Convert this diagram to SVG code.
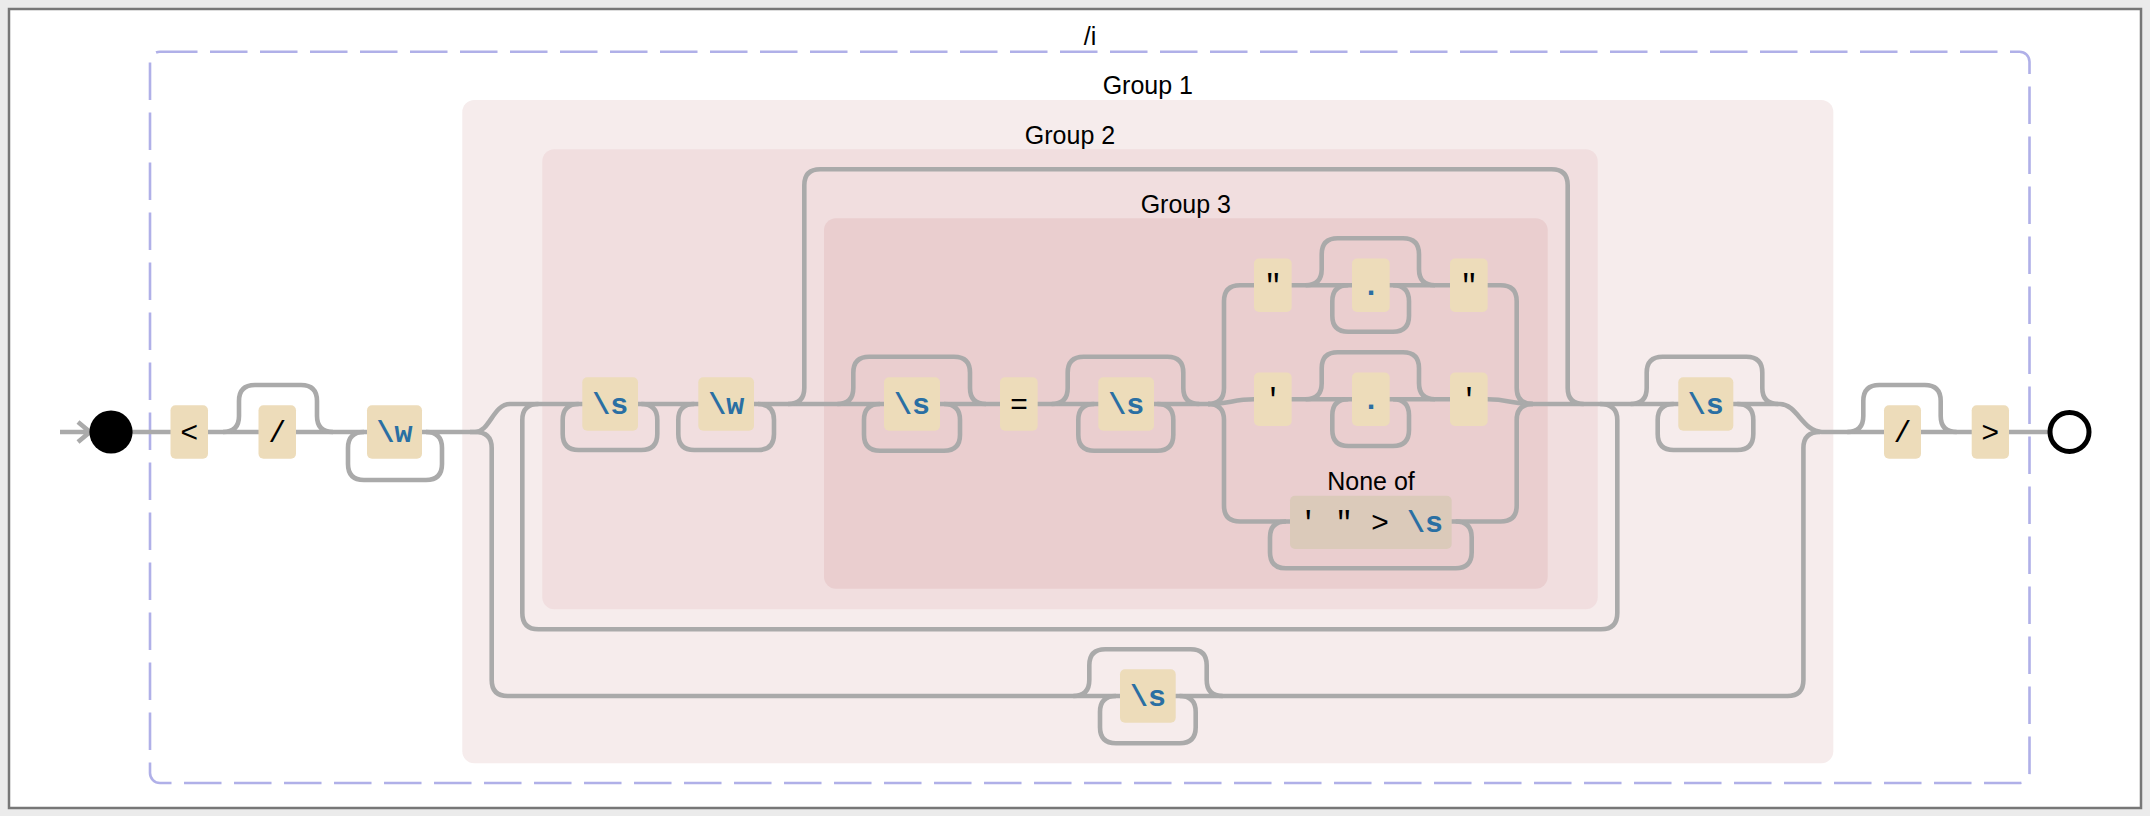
<svg xmlns="http://www.w3.org/2000/svg" width="2150" height="816" viewBox="0 0 2150 816">
<style>
.bg{fill:#ebebeb}
.frame{fill:#ffffff;stroke:#777777;stroke-width:2.5}
.dash{fill:none;stroke:#b0b0e8;stroke-width:2.6;stroke-dasharray:37.5 12.5}
.g1{fill:#f6ecec}
.g2{fill:#f1dedf}
.g3{fill:#eacecf}
.lbl{font-family:"Liberation Sans",Arial,sans-serif;font-size:25px;fill:#000;text-anchor:middle}
.conn path{fill:none;stroke:#aaaaaa;stroke-width:4.6;stroke-linejoin:round}
.lit{fill:#eddcba}
.cset{fill:#dbcaba}
.t{font-family:"Liberation Mono","Courier New",monospace;font-size:30px;text-anchor:middle;fill:#000}
.esc{fill:#2a6fa3;font-weight:bold}
</style>
<rect class="bg" x="0" y="0" width="2150" height="816"/>
<rect class="frame" x="9" y="9" width="2132" height="799"/>
<g id="regex-frame">
<rect class="dash" x="150" y="51.7" width="1879.5" height="731.3" rx="10"/>
<text class="lbl" x="1090" y="45">/i</text>
</g>
<g id="group1">
<rect class="g1" x="462.3" y="100" width="1371" height="663.3" rx="12"/>
<text class="lbl" x="1147.8" y="94.3">Group 1</text>
</g>
<g id="group2">
<rect class="g2" x="542.3" y="149.3" width="1055.4" height="460" rx="12"/>
<text class="lbl" x="1070" y="144">Group 2</text>
</g>
<g id="group3">
<rect class="g3" x="824" y="218.3" width="723.7" height="370.4" rx="12"/>
<text class="lbl" x="1185.8" y="212.7">Group 3</text>
</g>
<g id="connectors" class="conn">
<path d="M60,432 L90,432 M78,422 L90,432 L78,442"/>
<path d="M111,432 L475,432"/>
<path d="M223,432 Q239,432 239,416 L239,401 Q239,385 255,385 L301,385 Q317,385 317,401 L317,416 Q317,432 333,432"/>
<path d="M426,432 Q442,432 442,448 L442,464 Q442,480 426,480 L364,480 Q348,480 348,464 L348,448 Q348,432 364,432"/>
<path d="M470,432 L475,432 C490,432 493,404 510,404 L1210,404"/>
<path d="M475,432 Q491.7,432 491.7,448 L491.7,680 Q491.7,696 507.7,696 L1787.4,696 Q1803.4,696 1803.4,680 L1803.4,448 Q1803.4,432 1820,432"/>
<path d="M1533,404 L1780,404 C1797,404 1803,432 1822,432 L2050,432"/>
<path d="M1600,404 Q1617.3,404 1617.3,420 L1617.3,613 Q1617.3,629.3 1601,629.3 L538.5,629.3 Q522.3,629.3 522.3,613 L522.3,420 Q522.3,404 538.5,404"/>
<path d="M641.3,404 Q657.3,404 657.3,420 L657.3,434 Q657.3,450 641.3,450 L578.7,450 Q562.7,450 562.7,434 L562.7,420 Q562.7,404 578.7,404"/>
<path d="M758,404 Q774,404 774,420 L774,434 Q774,450 758,450 L694.3,450 Q678.3,450 678.3,434 L678.3,420 Q678.3,404 694.3,404"/>
<path d="M788,404 Q804.3,404 804.3,388 L804.3,185.3 Q804.3,169.3 820.3,169.3 L1551.7,169.3 Q1567.7,169.3 1567.7,185.3 L1567.7,388 Q1567.7,404 1583.7,404"/>
<path d="M837.3,404 Q853.3,404 853.3,388 L853.3,372.7 Q853.3,356.7 869.3,356.7 L954,356.7 Q970,356.7 970,372.7 L970,388 Q970,404 986,404"/>
<path d="M944,404 Q960,404 960,420 L960,434.7 Q960,450.7 944,450.7 L880,450.7 Q864,450.7 864,434.7 L864,420 Q864,404 880,404"/>
<path d="M1051.7,404 Q1067.7,404 1067.7,388 L1067.7,372.7 Q1067.7,356.7 1083.7,356.7 L1167.3,356.7 Q1183.3,356.7 1183.3,372.7 L1183.3,388 Q1183.3,404 1199.3,404"/>
<path d="M1157.3,404 Q1173.3,404 1173.3,420 L1173.3,434.7 Q1173.3,450.7 1157.3,450.7 L1094.3,450.7 Q1078.3,450.7 1078.3,434.7 L1078.3,420 Q1078.3,404 1094.3,404"/>
<path d="M1208,404 Q1224,404 1224,388 L1224,301.3 Q1224,285.3 1240,285.3 L1500.7,285.3 Q1516.7,285.3 1516.7,301.3 L1516.7,388 Q1516.7,404 1533,404"/>
<path d="M1208,404 C1228,404 1234,399.3 1254,399.3 L1487.7,399.3 C1508,399.3 1513,404 1533,404"/>
<path d="M1208,404 Q1224,404 1224,420 L1224,505.5 Q1224,521.5 1240,521.5 L1500.7,521.5 Q1516.7,521.5 1516.7,505.5 L1516.7,420 Q1516.7,404 1533,404"/>
<path d="M1305.7,285.3 Q1321.7,285.3 1321.7,269.3 L1321.7,254.3 Q1321.7,238.3 1337.7,238.3 L1403,238.3 Q1419,238.3 1419,254.3 L1419,269.3 Q1419,285.3 1435,285.3"/>
<path d="M1393,285.3 Q1409,285.3 1409,301.3 L1409,315.7 Q1409,331.7 1393,331.7 L1348.3,331.7 Q1332.3,331.7 1332.3,315.7 L1332.3,301.3 Q1332.3,285.3 1348.3,285.3"/>
<path d="M1305.7,399.3 Q1321.7,399.3 1321.7,383.3 L1321.7,368.3 Q1321.7,352.3 1337.7,352.3 L1403,352.3 Q1419,352.3 1419,368.3 L1419,383.3 Q1419,399.3 1435,399.3"/>
<path d="M1393,399.3 Q1409,399.3 1409,415.3 L1409,430 Q1409,446 1393,446 L1348.3,446 Q1332.3,446 1332.3,430 L1332.3,415.3 Q1332.3,399.3 1348.3,399.3"/>
<path d="M1455.7,521.5 Q1471.7,521.5 1471.7,537.5 L1471.7,552.3 Q1471.7,568.3 1455.7,568.3 L1286,568.3 Q1270,568.3 1270,552.3 L1270,537.5 Q1270,521.5 1286,521.5"/>
<path d="M1630.7,404 Q1646.7,404 1646.7,388 L1646.7,372.7 Q1646.7,356.7 1662.7,356.7 L1746.3,356.7 Q1762.3,356.7 1762.3,372.7 L1762.3,388 Q1762.3,404 1778.3,404"/>
<path d="M1737.3,404 Q1753.3,404 1753.3,420 L1753.3,434 Q1753.3,450 1737.3,450 L1673.7,450 Q1657.7,450 1657.7,434 L1657.7,420 Q1657.7,404 1673.7,404"/>
<path d="M1073.3,696 Q1089.3,696 1089.3,680 L1089.3,665.3 Q1089.3,649.3 1105.3,649.3 L1190.7,649.3 Q1206.7,649.3 1206.7,665.3 L1206.7,680 Q1206.7,696 1222.7,696"/>
<path d="M1179.7,696 Q1195.7,696 1195.7,712 L1195.7,727.3 Q1195.7,743.3 1179.7,743.3 L1116,743.3 Q1100,743.3 1100,727.3 L1100,712 Q1100,696 1116,696"/>
<path d="M1847.3,432 Q1863.3,432 1863.3,416 L1863.3,401 Q1863.3,385 1879.3,385 L1924.7,385 Q1940.7,385 1940.7,401 L1940.7,416 Q1940.7,432 1956.7,432"/>
</g>
<g id="start"><circle cx="111" cy="432" r="21.6" fill="#000"/></g>
<g id="end"><circle cx="2069.5" cy="432" r="19.5" fill="#fff" stroke="#000" stroke-width="5"/></g>
<g id="lt"><rect class="lit" x="170.5" y="405.3" width="37.5" height="53.4" rx="5"/><text class="t" x="189.3" y="441.5">&lt;</text></g>
<g id="slash1"><rect class="lit" x="258.5" y="405.3" width="37.5" height="53.4" rx="5"/><text class="t" x="277.3" y="441.5">/</text></g>
<g id="w1"><rect class="lit" x="367" y="405.3" width="55" height="53.4" rx="5"/><text class="t esc" x="394.5" y="441.5">\w</text></g>
<g id="s1"><rect class="lit" x="582.3" y="377.3" width="55.7" height="53.4" rx="5"/><text class="t esc" x="610.2" y="413.5">\s</text></g>
<g id="w2"><rect class="lit" x="698.3" y="377.3" width="55.7" height="53.4" rx="5"/><text class="t esc" x="726.2" y="413.5">\w</text></g>
<g id="s2"><rect class="lit" x="884" y="377.3" width="56" height="53.4" rx="5"/><text class="t esc" x="912" y="413.5">\s</text></g>
<g id="eq"><rect class="lit" x="1000" y="377.3" width="37.7" height="53.4" rx="5"/><text class="t" x="1018.9" y="413.5">=</text></g>
<g id="s3"><rect class="lit" x="1098.3" y="377.3" width="55.7" height="53.4" rx="5"/><text class="t esc" x="1126.2" y="413.5">\s</text></g>
<g id="dq1"><rect class="lit" x="1254" y="258.6" width="37.7" height="53.4" rx="5"/><text class="t" x="1272.9" y="294.8">"</text></g>
<g id="any1"><rect class="lit" x="1352" y="258.6" width="37.7" height="53.4" rx="5"/><text class="t esc" x="1370.9" y="294.8">.</text></g>
<g id="dq2"><rect class="lit" x="1450" y="258.6" width="37.7" height="53.4" rx="5"/><text class="t" x="1468.9" y="294.8">"</text></g>
<g id="sq1"><rect class="lit" x="1254" y="372.6" width="37.7" height="53.4" rx="5"/><text class="t" x="1272.9" y="408.8">'</text></g>
<g id="any2"><rect class="lit" x="1352" y="372.6" width="37.7" height="53.4" rx="5"/><text class="t esc" x="1370.9" y="408.8">.</text></g>
<g id="sq2"><rect class="lit" x="1450" y="372.6" width="37.7" height="53.4" rx="5"/><text class="t" x="1468.9" y="408.8">'</text></g>
<g id="noneof">
<text class="lbl" x="1371" y="490">None of</text>
<rect class="cset" x="1290" y="495.7" width="161.7" height="53.3" rx="5"/>
<text class="t" x="1308.3" y="531.8">'</text>
<text class="t" x="1344" y="531.8">"</text>
<text class="t" x="1380" y="531.8">&gt;</text>
<text class="t esc" x="1425" y="531.8">\s</text>
</g>
<g id="s4"><rect class="lit" x="1678.3" y="377.3" width="55" height="53.4" rx="5"/><text class="t esc" x="1705.8" y="413.5">\s</text></g>
<g id="s5"><rect class="lit" x="1120" y="669.3" width="55.7" height="53.4" rx="5"/><text class="t esc" x="1147.9" y="705.5">\s</text></g>
<g id="slash2"><rect class="lit" x="1884" y="405.3" width="37" height="53.4" rx="5"/><text class="t" x="1902.5" y="441.5">/</text></g>
<g id="gt"><rect class="lit" x="1971.7" y="405.3" width="37.3" height="53.4" rx="5"/><text class="t" x="1990.3" y="441.5">&gt;</text></g>
</svg>
